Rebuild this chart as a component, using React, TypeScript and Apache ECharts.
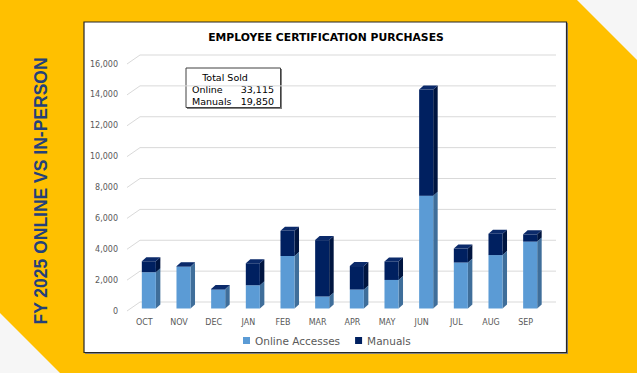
import React, { useEffect, useRef } from "react";
import * as echarts from "echarts";

const months = ["OCT", "NOV", "DEC", "JAN", "FEB", "MAR", "APR", "MAY", "JUN", "JUL", "AUG", "SEP"];
const onlineAccesses = [2350, 2700, 1230, 1500, 3400, 780, 1230, 1850, 7300, 2980, 3460, 4335];
const manuals = [710, 30, 40, 1430, 1630, 3650, 1520, 1200, 6880, 905, 1385, 470];
const yTicks = [0, 2000, 4000, 6000, 8000, 10000, 12000, 14000, 16000];
const totalLabels = [
  ["Online", "33,115"],
  ["Manuals", "19,850"],
];

const FONT = "DejaVu Sans";
const DX = 4.5;
const DY = -4;
const OX = 4.5;
const OY = -2.5;

function makeBarRender(front: string, side: string, top: string) {
  return (params: any, api: any) => {
    const idx = api.value(0);
    const base = api.value(1);
    const end = api.value(2);
    const p0 = api.coord([idx, base]);
    const p1 = api.coord([idx, end]);
    const bw = api.size([1, 0])[0] * 0.405;
    const x0 = p0[0] - bw / 2 + OX;
    const x1 = x0 + bw;
    const yb = p0[1] + OY;
    const yt = p1[1] + OY;
    return {
      type: "group",
      children: [
        {
          type: "polygon",
          shape: { points: [[x1, yb], [x1 + DX, yb + DY], [x1 + DX, yt + DY], [x1, yt]] },
          style: { fill: side },
        },
        {
          type: "rect",
          shape: { x: x0, y: yt, width: bw, height: Math.max(0, yb - yt) },
          style: { fill: front },
        },
        {
          type: "polygon",
          shape: { points: [[x0, yt], [x1, yt], [x1 + DX, yt + DY], [x0 + DX, yt + DY]] },
          style: { fill: top },
        },
      ],
    };
  };
}

export default function App() {
  const ref = useRef<HTMLDivElement>(null);
  useEffect(() => {
    if (!ref.current) return;
    const chart = echarts.init(ref.current, null, { renderer: "svg" });
    const onlineData = months.map((_, i) => [i, 0, onlineAccesses[i]]);
    const manualData = months.map((_, i) => [i, onlineAccesses[i], onlineAccesses[i] + manuals[i]]);
    const gridData = yTicks.map((v) => [0, v]);

    const option: any = {
      animation: false,
      backgroundColor: "#FFC000",
      textStyle: { fontFamily: FONT },
      grid: { left: 127, right: 94, top: 64, bottom: 62 },
      xAxis: {
        type: "category",
        data: months,
        axisLine: { show: false },
        axisTick: { show: false },
        axisLabel: { fontSize: 8, color: "#595959", margin: 7, fontFamily: FONT },
      },
      yAxis: {
        type: "value",
        min: 0,
        max: 16000,
        interval: 2000,
        axisLine: { show: false },
        axisTick: { show: false },
        splitLine: { show: false },
        axisLabel: {
          fontSize: 8,
          color: "#595959",
          margin: 9,
          fontFamily: FONT,
          formatter: (v: number) => v.toLocaleString("en-US"),
        },
      },
      legend: {
        data: ["Online Accesses", "Manuals"],
        left: 238,
        top: 330,
        icon: "rect",
        itemWidth: 7,
        itemHeight: 7,
        itemGap: 15,
        textStyle: { fontSize: 10.5, color: "#595959", fontFamily: FONT },
      },
      graphic: [
        { type: "polygon", z: 0, shape: { points: [[577, 0], [637, 0], [637, 60]] }, style: { fill: "#F6F6F6" } },
        { type: "polygon", z: 0, shape: { points: [[0, 313], [0, 373], [60, 373]] }, style: { fill: "#F6F6F6" } },
        {
          type: "text",
          z: 1,
          x: 41,
          y: 191,
          rotation: Math.PI / 2,
          style: {
            text: "FY 2025 ONLINE VS IN-PERSON",
            fontFamily: "Liberation Sans",
            fontWeight: "bold",
            fontSize: 17.5,
            fill: "#24407A",
            align: "center",
            verticalAlign: "middle",
          },
        },
        { type: "rect", z: 0, shape: { x: 85, y: 23, width: 483, height: 331 }, style: { fill: "#7F7F7F" } },
        { type: "rect", z: 0, shape: { x: 84, y: 22, width: 482.5, height: 330.5 }, style: { fill: "#FFFFFF", stroke: "#262626", lineWidth: 1.2 } },
        {
          type: "text",
          z: 1,
          x: 326,
          y: 37,
          style: {
            text: "EMPLOYEE CERTIFICATION PURCHASES",
            fontFamily: FONT,
            fontWeight: "bold",
            fontSize: 10.8,
            fill: "#000000",
            align: "center",
            verticalAlign: "middle",
          },
        },
        {
          type: "group",
          z: 100,
          children: [
            { type: "rect", shape: { x: 187, y: 69, width: 95, height: 40 }, style: { fill: "#808080" } },
            { type: "rect", shape: { x: 186, y: 68, width: 94.5, height: 39.5 }, style: { fill: "#FFFFFF", stroke: "#404040", lineWidth: 1 } },
            {
              type: "text",
              x: 225,
              y: 77.5,
              style: { text: "Total Sold", fontFamily: FONT, fontSize: 9.5, fill: "#000", align: "center", verticalAlign: "middle" },
            },
            ...totalLabels.flatMap((row, i) => [
              {
                type: "text",
                x: 192,
                y: 89.5 + i * 12,
                style: { text: row[0], fontFamily: FONT, fontSize: 9.5, fill: "#000", align: "left", verticalAlign: "middle" },
              },
              {
                type: "text",
                x: 274,
                y: 89.5 + i * 12,
                style: { text: row[1], fontFamily: FONT, fontSize: 9.5, fill: "#000", align: "right", verticalAlign: "middle" },
              },
            ]),
          ],
        },
      ],
      series: [
        {
          type: "custom",
          name: "gridlines",
          z: 1,
          silent: true,
          data: gridData,
          encode: { x: 0, y: 1 },
          renderItem: (params: any, api: any) => {
            const v = api.value(1);
            const y = api.coord([0, v])[1];
            const cs = params.coordSys;
            const x = cs.x;
            return {
              type: "polyline",
              shape: { points: [[x, y], [x + 13, y - 9], [x + 13 + cs.width, y - 9]] },
              style: { stroke: "#D9D9D9", lineWidth: 1, fill: "none" },
            };
          },
        },
        {
          type: "custom",
          name: "Online Accesses",
          z: 2,
          itemStyle: { color: "#5B9BD5" },
          data: onlineData,
          encode: { x: 0, y: [1, 2] },
          renderItem: makeBarRender("#5B9BD5", "#3F6E9A", "#8DB8E3"),
        },
        {
          type: "custom",
          name: "Manuals",
          z: 3,
          itemStyle: { color: "#002060" },
          data: manualData,
          encode: { x: 0, y: [1, 2] },
          renderItem: makeBarRender("#002060", "#001540", "#0B2A6A"),
        },
      ],
    };
    chart.setOption(option);
    return () => chart.dispose();
  }, []);
  return <div ref={ref} style={{ position: "fixed", left: 0, top: 0, width: 637, height: 373 }} />;
}
